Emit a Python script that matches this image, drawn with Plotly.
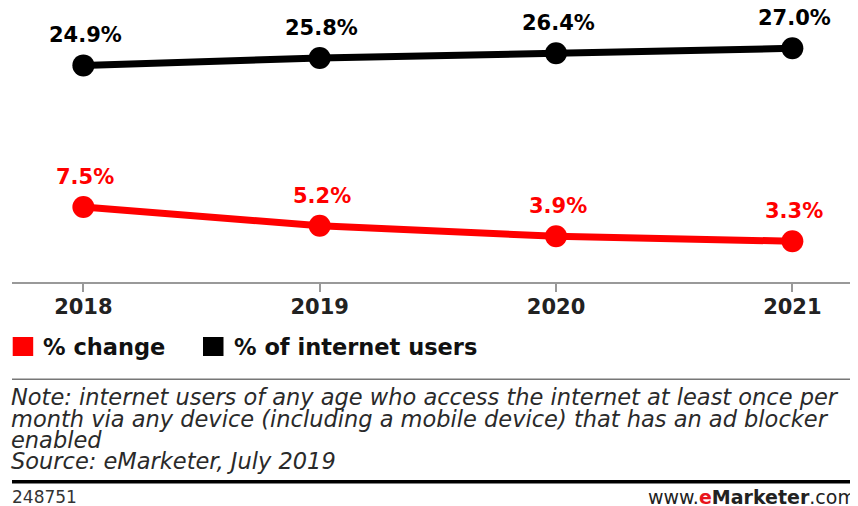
import plotly.graph_objects as go

years = [2018, 2019, 2020, 2021]
pct_users = [24.9, 25.8, 26.4, 27.0]
pct_change = [7.5, 5.2, 3.9, 3.3]
series_names = ["% change", "% of internet users"]
note_lines = [
    "Note: internet users of any age who access the internet at least once per",
    "month via any device (including a mobile device) that has an ad blocker",
    "enabled",
    "Source: eMarketer, July 2019",
]
chart_id = "248751"

# the page body has an 8px margin; work in page coordinates
OFF = 8
W, H = 858 - OFF, 506 - OFF
PLOT_L, PLOT_R, PLOT_T, PLOT_B = 12, 858, 8, 282  # page coords
L = PLOT_L - OFF
T = PLOT_T - OFF
PW = PLOT_R - PLOT_L
PH = PLOT_B - PLOT_T
R = W - L - PW
B = H - T - PH
FONT = "DejaVu Sans"


def px(x):
    return (x - PLOT_L) / PW


def py(y):
    return (PLOT_B - y) / PH


fig = go.Figure()
for vals, color in [(pct_change, "#ff0000"), (pct_users, "#000000")]:
    fig.add_trace(go.Scatter(
        x=years, y=vals, mode="lines+markers",
        line=dict(color=color, width=7),
        marker=dict(color=color, size=22),
        showlegend=False, hoverinfo="skip",
    ))

annotations = []
for vals, color in [(pct_change, "#ff0000"), (pct_users, "#000000")]:
    for x, v in zip(years, vals):
        annotations.append(dict(
            x=x, y=v, xref="x", yref="y", text=f"<b>{v:.1f}%</b>",
            showarrow=False, yshift=30, xshift=2, borderpad=0,
            font=dict(family=FONT, size=21, color=color),
        ))

# legend
shapes = []
leg = [("#ff0000", 12.7, 41, series_names[0]), ("#000000", 203, 232, series_names[1])]
for color, sx, tx, name in leg:
    shapes.append(dict(type="rect", xref="paper", yref="paper",
                       x0=px(sx), x1=px(sx + 20.5), y0=py(356), y1=py(337),
                       fillcolor=color, line=dict(width=0)))
    annotations.append(dict(x=px(tx), y=py(347), xref="paper", yref="paper",
                            xanchor="left", yanchor="middle", showarrow=False,
                            text=f"<b>{name}</b>",
                            font=dict(family=FONT, size=22.5, color="#111111")))

# separator lines
shapes.append(dict(type="line", xref="paper", yref="paper", x0=px(12), x1=px(858),
                   y0=py(379.3), y1=py(379.3), line=dict(color="#777777", width=1.5)))
shapes.append(dict(type="line", xref="paper", yref="paper", x0=px(12), x1=px(858),
                   y0=py(481.7), y1=py(481.7), line=dict(color="#000000", width=3.5)))

# notes
for line, yc in zip(note_lines, [397, 418.5, 440, 461]):
    annotations.append(dict(x=px(10), y=py(yc), xref="paper", yref="paper",
                            xanchor="left", yanchor="middle", showarrow=False,
                            borderpad=0,
                            text=f"<i>{line}</i>",
                            font=dict(family=FONT, size=22.5, color="#2a2a2a")))

annotations.append(dict(x=px(11), y=py(497), xref="paper", yref="paper",
                        xanchor="left", yanchor="middle", showarrow=False,
                        borderpad=0, text=chart_id,
                        font=dict(family=FONT, size=17, color="#333333")))
annotations.append(dict(x=px(857), y=py(497), xref="paper", yref="paper",
                        xanchor="right", yanchor="middle", showarrow=False,
                        borderpad=0,
                        text="www.<b><span style='color:#e8141c'>e</span>Marketer</b>.com",
                        font=dict(family=FONT, size=19, color="#222222")))

x0_year = 2017.698
y_bottom = -1.71
fig.update_layout(
    width=W, height=H,
    margin=dict(l=L, r=R, t=T, b=B, pad=0, autoexpand=False),
    paper_bgcolor="white", plot_bgcolor="white",
    showlegend=False,
    xaxis=dict(
        range=[x0_year, x0_year + PW / 236.33],
        tickmode="array", tickvals=years, ticktext=[str(y) for y in years],
        showline=True, linecolor="#999999", linewidth=1.5,
        ticks="outside", ticklen=8, tickwidth=1.5, tickcolor="#999999",
        ticklabelstandoff=-3,
        showgrid=False, zeroline=False, fixedrange=True,
        tickfont=dict(family=FONT, size=21, color="#222222", weight="bold"),
    ),
    yaxis=dict(
        range=[y_bottom, y_bottom + PH / 8.14],
        visible=False, showgrid=False, zeroline=False, fixedrange=True,
    ),
    annotations=annotations,
    shapes=shapes,
)

fig.write_html("out.html")
